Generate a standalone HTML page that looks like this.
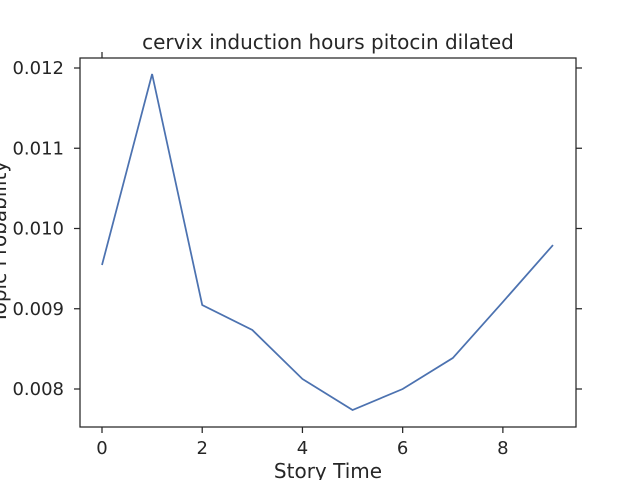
<!DOCTYPE html>
<html><head><meta charset="utf-8"><style>
body{margin:0;background:#fff;}
svg text{font-family:"DejaVu Sans","Liberation Sans",sans-serif;fill:#262626;}
</style></head><body>
<svg width="640" height="480" viewBox="0 0 640 480">
<rect width="640" height="480" fill="#fff"/>
<g id="g"></g>
</svg>
<script>
const xTicks=[0,2,4,6,8];
const yTicks=[0.008,0.009,0.010,0.011,0.012];
const yTickLabels=["0.008","0.009","0.010","0.011","0.012"];
const xs=[0,1,2,3,4,5,6,7,8,9];
const ys=[0.009545,0.011925,0.009047,0.008735,0.008125,0.007738,0.008,0.008386,0.009085,0.009794];
const L=80,R=576,T=58,B=427;
const sx=v=>102+v*50.11;
const sy=v=>389-(v-0.008)*80250;
const g=document.getElementById('g');
const NS='http://www.w3.org/2000/svg';
function mk(t,a,p){const e=document.createElementNS(NS,t);for(const k in a)e.setAttribute(k,a[k]);(p||g).appendChild(e);return e;}
let e=mk('rect',{x:L,y:T,width:R-L,height:B-T,fill:'none',stroke:'#262626','stroke-width':1.25});


xTicks.forEach(v=>{
 let t=mk('line',{x1:sx(v),x2:sx(v),y1:B,y2:B+6,stroke:'#262626','stroke-width':1.25});
 
 
 let l=mk('text',{x:sx(v),y:B+27,'text-anchor':'middle','font-size':18});l.textContent=v;
 
 
});
let tt=mk('line',{x1:sx(0),x2:sx(0),y1:T,y2:T-6,stroke:'#262626','stroke-width':1.25});


yTicks.forEach((v,i)=>{
 let t=mk('line',{x1:L-6,x2:L,y1:sy(v),y2:sy(v),stroke:'#262626','stroke-width':1.25});
 
 
 let r=mk('line',{x1:R,x2:R+6,y1:sy(v),y2:sy(v),stroke:'#262626','stroke-width':1.25});
 
 
 let l=mk('text',{x:L-16,y:sy(v)+6,'text-anchor':'end','font-size':18});l.textContent=yTickLabels[i];
 
 
});
let p=mk('polyline',{points:xs.map((x,i)=>sx(x)+','+sy(ys[i])).join(' '),fill:'none',stroke:'#4c72b0','stroke-width':1.75});


let ti=mk('text',{x:328,y:49,'text-anchor':'middle','font-size':20});ti.textContent='cervix induction hours pitocin dilated';


let xl=mk('text',{x:328,y:478,'text-anchor':'middle','font-size':20});xl.textContent='Story Time';


let yl=mk('text',{x:0,y:0,'text-anchor':'middle','font-size':20,transform:'translate(6,242) rotate(-90)'});yl.textContent='Topic Probability';


</script>
</body></html>
